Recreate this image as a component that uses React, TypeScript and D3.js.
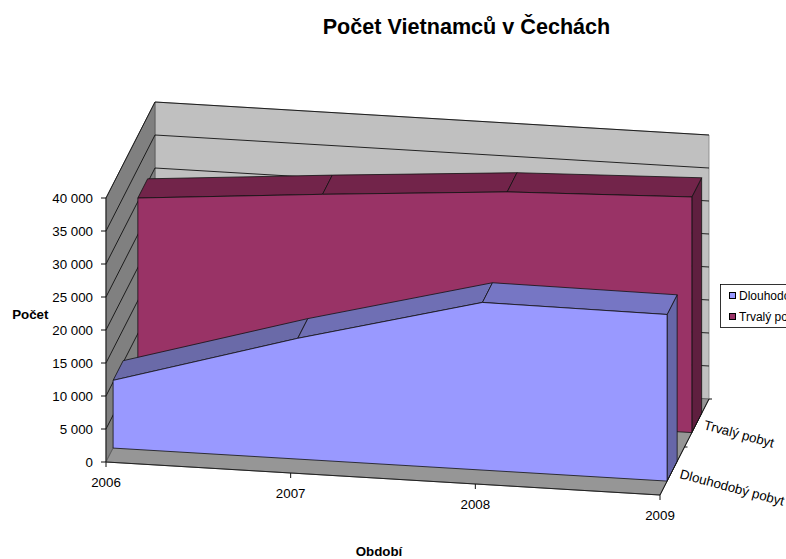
import React from "react";
import * as d3 from "d3";

const years = ["2006", "2007", "2008", "2009"];
const dlouhodoby = [10260, 18300, 25400, 25240];
const trvaly = [30545, 32770, 34800, 35700];
const valueTicks = [0, 5000, 10000, 15000, 20000, 25000, 30000, 35000, 40000];
const tickLabels = ["0", "5 000", "10 000", "15 000", "20 000", "25 000", "30 000", "35 000", "40 000"];
const seriesNames = ["Dlouhodobý pobyt", "Trvalý pobyt"];

const font = "Arial, 'Liberation Sans', sans-serif";
const sx = d3.scaleLinear().domain([0, 3]).range([0, 554]);
const stepY = d3.scaleLinear().domain([0, 3]).range([0, 33]);
const vy = d3.scaleLinear().domain([0, 40000]).range([0, 264]);
const dx = d3.scaleLinear().domain([0, 1]).range([0, 49]);
const dy = d3.scaleLinear().domain([0, 1]).range([0, 96]);

type P = [number, number];
const proj = (t: number, v: number, d: number): P => [
  106 + sx(t) + dx(d),
  462 + stepY(t) - vy(v) - dy(d),
];
const path = d3.line<P>();
const poly = (pts: P[]) => path(pts)! + "Z";

const edge = "#111";

function Series({ values, d0, d1, front, side, tops }: { values: number[]; d0: number; d1: number; front: string; side: string; tops: string[] }) {
  const n = values.length - 1;
  const frontPts: P[] = [
    ...values.map((v, i) => proj(i, v, d0)),
    proj(n, 0, d0),
    proj(0, 0, d0),
  ];
  return (
    <g stroke={edge} strokeWidth={0.8} strokeLinejoin="round">
      <path d={poly([proj(n, 0, d0), proj(n, values[n], d0), proj(n, values[n], d1), proj(n, 0, d1)])} fill={side} />
      {values.slice(0, n).map((v, i) => (
        <path key={i} d={poly([proj(i, v, d0), proj(i + 1, values[i + 1], d0), proj(i + 1, values[i + 1], d1), proj(i, v, d1)])} fill={tops[i]} />
      ))}
      <path d={poly(frontPts)} fill={front} />
    </g>
  );
}

export default function App() {
  const txt = { fontFamily: font, fill: "#000" };
  return (
    <svg width={786} height={559} viewBox="0 0 786 559" style={{ position: "absolute", left: 0, top: 0, background: "#fff" }}>
      <text x={466.5} y={34} textAnchor="middle" fontSize={21.6} fontWeight="bold" {...txt}>Počet Vietnamců v Čechách</text>

      {/* walls */}
      <path d={poly([proj(0, 0, 1), proj(0, 40000, 1), proj(3, 40000, 1), proj(3, 0, 1)])} fill="#c0c0c0" stroke="#808080" strokeWidth={0.8} />
      <path d={poly([proj(0, 0, 0), proj(0, 40000, 0), proj(0, 40000, 1), proj(0, 0, 1)])} fill="#808080" stroke="#555" strokeWidth={0.8} />
      <path d={poly([proj(0, 0, 0), proj(3, 0, 0), proj(3, 0, 1), proj(0, 0, 1)])} fill="#969696" stroke="#555" strokeWidth={0.8} />
      {valueTicks.slice(1).map((v) => (
        <g key={v} stroke="#111" strokeWidth={0.9} fill="none">
          <path d={path([proj(0, v, 0), proj(0, v, 1), proj(3, v, 1)])!} />
        </g>
      ))}

      <Series values={trvaly} d0={0.65} d1={0.85} front="#993366" side="#5f1f3f" tops={["#72244a", "#72244a", "#72244a"]} />
      <Series values={dlouhodoby} d0={0.145} d1={0.35} front="#9999ff" side="#6666a8" tops={["#6a6aa8", "#6f6fb4", "#7676c4"]} />

      {/* axes */}
      <path d={path([proj(0, 0, 0), proj(0, 40000, 0)])!} stroke="#222" strokeWidth={1} />
      <path d={path([proj(0, 0, 0), proj(3, 0, 0)])!} stroke="#222" strokeWidth={1} />
      <path d={path([proj(3, 0, 0), proj(3, 0, 1)])!} stroke="#111" strokeWidth={1} />
      {valueTicks.map((v, i) => {
        const [x, y] = proj(0, v, 0);
        return (
          <g key={v}>
            <line x1={x - 5} x2={x} y1={y} y2={y} stroke="#111" />
            <text x={x - 13} y={y + 4.5} textAnchor="end" fontSize={13.33} {...txt}>{tickLabels[i]}</text>
          </g>
        );
      })}
      {years.map((yr, i) => {
        const [x, y] = proj(i, 0, 0);
        return (
          <g key={yr}>
            <line x1={x} x2={x} y1={y} y2={y + 5} stroke="#111" />
            <text x={x} y={y + 25} textAnchor="middle" fontSize={13.33} {...txt}>{yr}</text>
          </g>
        );
      })}
      {[0.5, 1].map((d) => {
        const [x, y] = proj(3, 0, d);
        return <line key={d} x1={x} x2={x + 3} y1={y} y2={y} stroke="#111" />;
      })}
      <text transform="translate(679,478) rotate(15)" fontSize={13.33} {...txt}>{seriesNames[0]}</text>
      <text transform="translate(703,429) rotate(15)" fontSize={13.33} {...txt}>{seriesNames[1]}</text>

      <text x={30.3} y={319} textAnchor="middle" fontSize={13.33} fontWeight="bold" {...txt}>Počet</text>
      <text x={379} y={556} textAnchor="middle" fontSize={13.33} fontWeight="bold" {...txt}>Období</text>

      {/* legend */}
      <rect x={720.5} y={284.5} width={80} height={43} fill="#fff" stroke="#000" strokeWidth={0.8} />
      {seriesNames.map((name, i) => (
        <g key={name}>
          <rect x={729.5} y={292.5 + i * 21} width={6} height={6} fill={i === 0 ? "#9999ff" : "#993366"} stroke="#000" />
          <text x={739} y={300 + i * 21} fontSize={12} {...txt}>{name}</text>
        </g>
      ))}
    </svg>
  );
}
